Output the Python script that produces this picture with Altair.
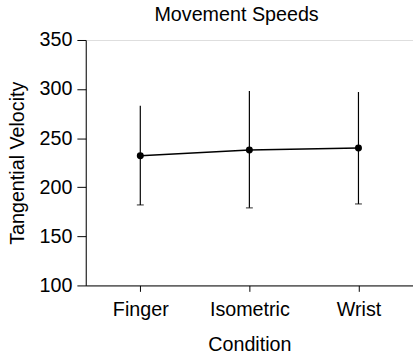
import altair as alt
import pandas as pd

conditions = ["Finger", "Isometric", "Wrist"]
means = [232, 238, 240]
lower = [182, 179, 183]
upper = [283, 298, 297]

df = pd.DataFrame({"condition": conditions, "mean": means, "lower": lower, "upper": upper})

FONT = "Liberation Sans"
FS = 20

xenc = alt.X(
    "condition:N",
    sort=conditions,
    scale=alt.Scale(type="point", padding=0.5),
    axis=alt.Axis(title="Condition", labelAngle=0, labelFontSize=FS, titleFontSize=FS,
                  labelFont=FONT, titleFont=FONT, titleFontWeight="normal",
                  tickSize=6, labelPadding=9, titlePadding=15,
                  domainColor="black", tickColor="black", labelColor="black", titleColor="black",
                  grid=False),
)
yscale = alt.Scale(domain=[100, 350], nice=False, zero=False)
yaxis = alt.Axis(title="Tangential Velocity", values=[100, 150, 200, 250, 300, 350],
                 labelFontSize=FS, titleFontSize=FS, labelFont=FONT, titleFont=FONT,
                 titleFontWeight="normal", tickSize=9, labelPadding=5, titlePadding=12,
                 domainColor="black", tickColor="black", labelColor="black", titleColor="black",
                 grid=False)

base = alt.Chart(df)

err = base.mark_rule(color="black", strokeWidth=1.2).encode(
    x=xenc,
    y=alt.Y("lower:Q", scale=yscale, axis=yaxis),
    y2="upper:Q",
)
caps = base.mark_tick(color="black", size=7, thickness=1.2).encode(
    x=xenc,
    y=alt.Y("lower:Q", scale=yscale),
)
line = base.mark_line(color="black", strokeWidth=1.5).encode(
    x=xenc,
    y=alt.Y("mean:Q", scale=yscale),
)
pts = base.mark_circle(color="black", size=50, opacity=1).encode(
    x=xenc,
    y=alt.Y("mean:Q", scale=yscale),
)

chart = (
    alt.layer(err, caps, line, pts)
    .properties(
        width=332,
        height=249,
        title=alt.TitleParams("Movement Speeds", fontSize=FS, font=FONT, fontWeight="normal",
                              color="black", offset=5, dx=-13),
        autosize=alt.AutoSizeParams(type="none"),
        padding={"left": 87, "top": 38, "right": 0, "bottom": 68},
    )
    .configure_view(strokeWidth=0, stroke="transparent")
    .configure(background="white")
)

chart.save("out.html", embed_options={"renderer": "svg", "actions": False})
